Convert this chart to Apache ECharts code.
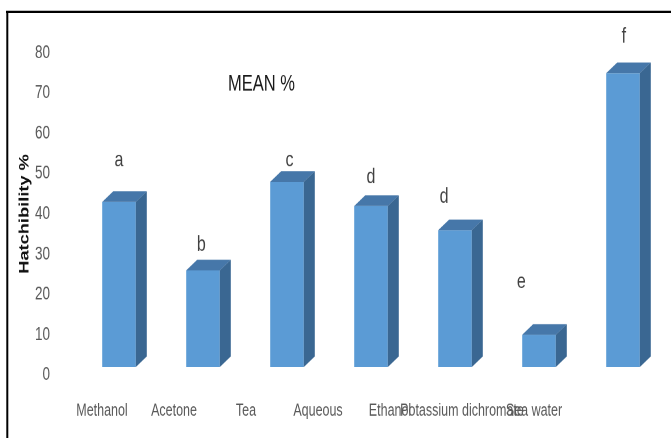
<!DOCTYPE html>
<html>
<head>
<meta charset="utf-8">
<script src="https://cdn.jsdelivr.net/npm/echarts@6/dist/echarts.min.js"></script>
<style>
  html, body { margin: 0; padding: 0; background: #fff; }
  #wrap { width: 671px; height: 438px; position: relative; background: #fff; }
  /* the chart is laid out short and stretched vertically, giving the tall, narrow lettering */
  #chart { position: absolute; left: 0; top: 0; width: 671px; height: 324px;
           transform: scaleY(1.3519); transform-origin: 0 0; }
</style>
</head>
<body>
<div id="wrap"><div id="chart"></div></div>
<script>
// Treatments and mean hatchability (%)
const categories = ['Methanol', 'Acetone', 'Tea', 'Aqueous', 'Ethanol', 'Potassium dichromate', 'Sea water'];
const hatchability = [41, 24, 46, 40, 34, 8, 73];
const yTicks = [0, 10, 20, 30, 40, 50, 60, 70, 80];

// Significance letters and where each sits (x in category units, y in % units)
const letters = ['a', 'b', 'c', 'd', 'd', 'e', 'f'];
const letterX = [0, 0.98, 2.03, 3.0, 3.87, 4.79, 6.01];
const letterY = [53.4, 32.3, 53.4, 49.2, 44.2, 23.1, 84];

const chart = echarts.init(document.getElementById('chart'), null, { devicePixelRatio: 2 });

const sans = '"Liberation Sans", Arial, sans-serif';

// Pseudo-3D column: front face, top face and right side face
function renderColumn(params, api) {
  const idx = api.value(0);
  const base = api.coord([idx, 0]);
  const top = api.coord([idx, api.value(1)]);
  const w = api.size([1, 0])[0] * 0.4;
  const lift = 5.9, dx = 11, dy = 7.9;
  const x0 = base[0] - w / 2, x1 = base[0] + w / 2;
  const yb = base[1] - lift, yt = top[1] - lift;
  return {
    type: 'group',
    children: [
      { type: 'rect', shape: { x: x0, y: yt, width: w, height: yb - yt },
        style: { fill: '#5b9bd5' } },
      { type: 'polygon', shape: { points: [[x0, yt], [x1, yt], [x1 + dx, yt - dy], [x0 + dx, yt - dy]] },
        style: { fill: '#4677a9' } },
      { type: 'polygon', shape: { points: [[x1, yt], [x1 + dx, yt - dy], [x1 + dx, yb - dy], [x1, yb]] },
        style: { fill: '#3a6792' } }
    ]
  };
}

chart.setOption({
  animation: false,
  backgroundColor: '#fff',
  title: {
    text: 'MEAN %',
    left: 228, top: 54, padding: 0,
    textStyle: { fontFamily: sans, fontSize: 16.5, fontWeight: 'normal', color: '#1a1a1a' }
  },
  graphic: [
    { type: 'line', shape: { x1: 6, y1: 8.65, x2: 680, y2: 8.65 },
      style: { stroke: '#000', lineWidth: 1.6 }, z: 10 },
    { type: 'line', shape: { x1: 7.3, y1: 8, x2: 7.3, y2: 340 },
      style: { stroke: '#000', lineWidth: 2 }, z: 10 }
  ],
  grid: [
    { left: 77, width: 588, top: 39.2, height: 238.2 },
    { left: 66, width: 504, top: 39.2, height: 238.2 }
  ],
  xAxis: [
    { type: 'category', gridIndex: 0, data: categories,
      axisLine: { show: false }, axisTick: { show: false }, axisLabel: { show: false } },
    { type: 'category', gridIndex: 1, data: categories,
      axisLine: { show: false }, axisTick: { show: false },
      axisLabel: { interval: 0, margin: 20, color: '#595959', fontSize: 12.5, fontFamily: sans } },
    { type: 'value', gridIndex: 0, min: -0.5, max: 6.5, show: false }
  ],
  yAxis: [
    { type: 'value', gridIndex: 0, min: 0, max: 80, interval: 10,
      name: 'Hatchibility %', nameLocation: 'middle', nameGap: 45, nameMoveOverlap: false,
      nameTextStyle: { fontFamily: sans, fontSize: 13.5, fontWeight: 'bold', color: '#111' },
      axisLine: { show: false }, axisTick: { show: false }, splitLine: { show: false },
      axisLabel: { margin: 27, color: '#595959', fontSize: 13.5, fontFamily: sans,
        formatter: v => (yTicks.indexOf(v) >= 0 ? String(v) : '') } },
    { type: 'value', gridIndex: 1, min: 0, max: 80, show: false }
  ],
  series: [
    { type: 'custom', xAxisIndex: 0, yAxisIndex: 0, renderItem: renderColumn,
      data: hatchability.map((v, i) => [i, v]), clip: false },
    { type: 'scatter', xAxisIndex: 2, yAxisIndex: 0, symbolSize: 0, clip: false,
      data: letters.map((t, i) => ({ value: [letterX[i], letterY[i]], name: t })),
      label: { show: true, position: 'inside', formatter: p => p.name,
        fontFamily: sans, fontSize: 16, color: '#111' } }
  ]
});
</script>
</body>
</html>
